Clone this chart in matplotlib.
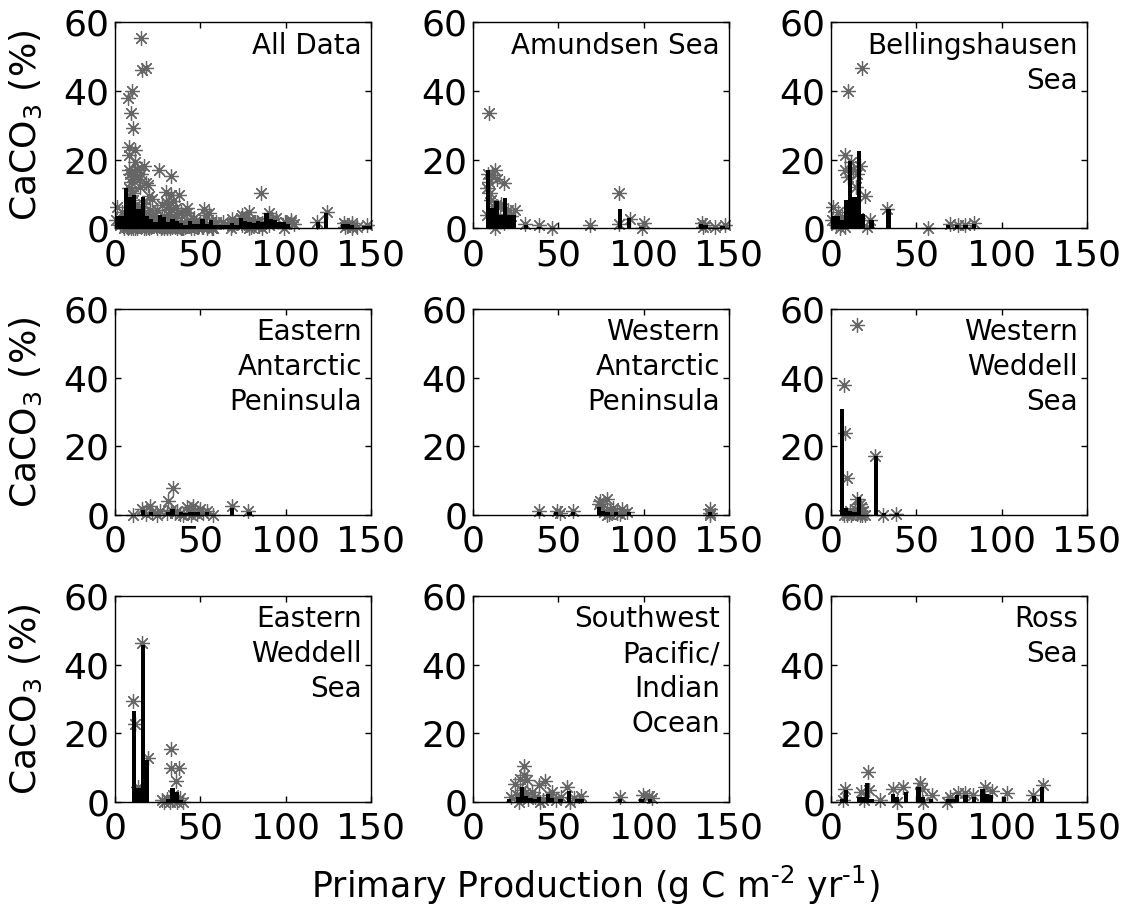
import matplotlib
matplotlib.use('Agg')
import matplotlib.pyplot as plt
import numpy as np

plt.rcParams['font.family'] = ['DejaVu Sans']
plt.rcParams['mathtext.fontset'] = 'dejavusans'

# --- sample data: primary production (g C m-2 yr-1) vs CaCO3 (%) per region ---
# scatter = individual samples, bin_* = binned means drawn as bars (2.5 wide bins)

amundsen_pp = [9.2, 8.0, 9.2, 13.1, 13.8, 17.9, 9.8, 10.4, 24.8, 13.1, 15.6, 19.5, 30.6, 38.4, 46.3,
               68.3, 85.3, 85.3, 91.7, 99.0, 100.4, 134.2, 136.1, 142.0, 147.8,
               8.5, 11.0, 12.0, 16.5, 20.5, 22.0, 8.2, 11.5, 18.0, 135.0]
amundsen_caco3 = [33.5, 11.7, 13.6, 17.0, 14.3, 13.3, 10.2, 8.3, 5.3, 0.0, 6.4, 4.3, 1.3, 1.0, 0.0,
                  1.0, 10.2, 1.3, 2.9, 0.0, 1.6, 1.6, 1.0, 0.5, 1.0,
                  16.0, 15.5, 6.5, 7.0, 5.5, 3.5, 4.0, 2.0, 1.5, 0.5]
amundsen_bin_pp = [8.75, 11.25, 13.75, 16.25, 18.75, 21.25, 23.75, 31.25, 38.75, 86.25, 91.25, 98.75,
                   133.75, 136.25, 146.25]
amundsen_bin_caco3 = [17.0, 6.0, 8.0, 4.0, 9.0, 4.0, 4.0, 1.0, 0.5, 5.8, 3.2, 0.5, 1.3, 1.0, 0.7]

bell_pp = [9.8, 18.0, 8.2, 8.2, 10.2, 15.0, 16.9, 13.1, 19.9, 1.4, 4.3, 0.4, 8.2, 22.8, 32.6, 56.6,
           69.7, 74.6, 78.5, 83.8, 11.1, 6.2, 12.0, 14.5, 3.0, 16.0, 21.0, 5.5]
bell_caco3 = [40.1, 46.8, 21.4, 17.0, 15.0, 16.0, 18.3, 17.2, 9.4, 6.3, 4.8, 2.4, 0.5, 2.4, 5.8, 0.0,
              1.3, 1.0, 1.0, 1.6, 6.3, 3.4, 19.5, 12.0, 1.0, 3.0, 0.5, 0.0]
bell_bin_pp = [1.25, 3.75, 6.25, 8.75, 11.25, 13.75, 16.25, 18.75, 23.75, 33.75, 68.75, 73.75, 78.75, 83.75]
bell_bin_caco3 = [3.5, 3.5, 2.4, 8.4, 19.8, 9.2, 22.5, 4.2, 2.4, 5.6, 1.0, 1.0, 1.0, 1.2]

eap_pp = [34.2, 31.3, 20.5, 10.7, 15.6, 26.3, 42.0, 45.9, 49.8, 53.7, 57.6, 68.4, 78.1, 38.2, 30.4,
          24.6, 36.2, 47.9, 40.0, 33.0, 35.0, 43.5, 21.5, 18.0, 51.5, 44.5]
eap_caco3 = [7.9, 4.2, 2.7, 0.1, 1.7, 1.2, 2.2, 2.7, 1.7, 1.2, 0.0, 2.7, 1.2, 0.3, 0.5,
             0.1, 1.2, 0.3, 0.0, 1.5, 0.5, 1.0, 0.8, 0.3, 0.5, 0.0]
eap_bin_pp = [16.25, 21.25, 31.25, 33.75, 38.75, 41.25, 43.75, 46.25, 48.75, 53.75, 68.75, 78.75]
eap_bin_caco3 = [1.4, 1.0, 1.0, 1.7, 0.8, 0.6, 0.8, 0.8, 0.8, 1.0, 2.0, 0.8]

wap_pp = [38.4, 49.2, 50.8, 58.6, 73.6, 78.5, 75.5, 80.5, 84.4, 87.3, 90.3, 78.5, 139.0, 139.0, 139.0,
          74.5, 76.5, 82.0, 79.5, 86.0]
wap_caco3 = [1.2, 1.2, 0.5, 1.2, 3.2, 4.7, 2.4, 1.2, 0.7, 1.7, 1.0, 0.0, 1.7, 0.0, 0.7,
             4.0, 1.0, 2.0, 0.3, 0.2]
wap_bin_pp = [38.75, 48.75, 58.75, 73.75, 76.25, 78.75, 83.75, 91.25, 138.75]
wap_bin_caco3 = [0.8, 0.8, 0.8, 2.4, 1.2, 0.8, 0.8, 0.8, 1.0]

wws_pp = [15.0, 7.8, 8.2, 9.6, 25.8, 15.4, 16.8, 30.7, 37.9, 11.1, 13.1, 15.0, 18.9, 19.9, 9.6, 16.9,
          7.6, 14.0, 17.5, 12.0, 18.0]
wws_caco3 = [55.4, 38.0, 23.8, 10.8, 17.1, 4.7, 3.2, 0.1, 0.3, 1.2, 0.7, 0.3, 1.2, 0.0, 0.0, 0.1,
             0.0, 1.8, 2.2, 0.0, 0.0]
wws_bin_pp = [6.25, 8.75, 11.25, 13.75, 16.25, 26.25, 31.25, 38.75]
wws_bin_caco3 = [30.9, 2.1, 1.2, 1.0, 5.2, 17.3, 0.5, 0.5]

ews_pp = [15.6, 10.7, 11.6, 19.5, 32.6, 32.6, 37.7, 35.7, 27.3, 30.3, 34.2, 38.1, 32.2, 13.6, 40.0,
          33.5, 36.5, 29.0]
ews_caco3 = [46.2, 29.4, 22.8, 12.8, 15.4, 9.9, 9.9, 6.0, 0.5, 1.0, 2.0, 1.2, 0.0, 4.3, 0.0,
             0.5, 0.0, 0.0]
ews_bin_pp = [11.25, 13.75, 16.25, 18.75, 31.25, 33.75, 36.25, 38.75]
ews_bin_caco3 = [26.4, 4.0, 45.8, 12.2, 0.8, 4.0, 3.0, 0.5]

swp_pp = [30.0, 29.6, 27.7, 24.8, 31.6, 38.4, 42.3, 55.1, 22.0, 34.7, 46.4, 51.3, 63.0, 59.1, 86.3,
          99.9, 102.9, 104.9, 27.1, 39.4, 28.7, 44.4, 30.5, 32.5, 36.5, 41.0, 48.5, 26.0, 57.0]
swp_caco3 = [10.5, 7.8, 6.8, 5.3, 6.3, 4.9, 6.1, 4.5, 1.6, 3.0, 3.0, 1.6, 1.8, 1.3, 1.6,
             2.0, 1.8, 1.3, 0.0, 0.0, 3.5, 2.0, 2.5, 1.0, 1.5, 0.5, 0.5, 2.0, 0.0]
swp_bin_pp = [21.25, 26.25, 28.75, 31.25, 33.75, 36.25, 38.75, 43.75, 46.25, 51.25, 56.25, 61.25, 63.75,
              86.25, 98.75, 103.75]
swp_bin_caco3 = [1.0, 1.5, 4.4, 1.8, 1.2, 1.0, 1.6, 2.3, 1.2, 0.8, 3.2, 1.0, 1.0, 1.0, 1.0, 1.0]

ross_pp = [21.9, 8.2, 17.6, 22.5, 36.5, 42.4, 52.1, 53.1, 59.0, 69.7, 74.6, 78.5, 83.4, 90.2, 94.1,
           102.9, 118.5, 124.4, 28.9, 7.2, 19.5, 67.8, 38.5, 54.1]
ross_caco3 = [8.6, 3.9, 2.9, 3.4, 3.9, 4.4, 5.6, 3.9, 2.0, 1.6, 2.5, 2.5, 2.0, 4.4, 3.1,
              2.5, 2.0, 4.9, 0.5, 0.5, 0.5, 0.0, 0.0, 0.0]
ross_bin_pp = [6.25, 8.75, 16.25, 18.75, 21.25, 23.75, 36.25, 38.75, 43.75, 51.25, 53.75, 58.75, 68.75,
               71.25, 73.75, 78.75, 83.75, 88.75, 91.25, 93.75, 101.25, 118.75, 123.75]
ross_bin_caco3 = [1.0, 3.4, 1.6, 1.6, 5.6, 1.0, 2.3, 1.6, 3.0, 4.4, 1.6, 1.0, 1.0,
                  1.0, 2.0, 2.0, 1.4, 3.8, 2.4, 2.0, 1.4, 1.8, 4.4]

all_bin_pp = [1.25, 3.75, 6.25, 8.75, 11.25, 13.75, 16.25, 18.75, 21.25, 23.75, 26.25, 28.75, 31.25,
              33.75, 36.25, 38.75, 41.25, 43.75, 46.25, 48.75, 51.25, 53.75, 56.25, 58.75, 61.25,
              63.75, 66.25, 68.75, 71.25, 73.75, 76.25, 78.75, 81.25, 83.75, 86.25, 88.75, 91.25,
              93.75, 96.25, 98.75, 101.25, 118.75, 123.75, 133.75, 136.25, 138.75, 146.25, 148.75]
all_bin_caco3 = [3.6, 3.6, 11.8, 9.2, 9.7, 5.8, 9.2, 3.7, 2.9, 1.9, 3.9, 3.4, 1.9,
                 2.9, 2.2, 1.5, 1.0, 2.3, 1.3, 1.3, 2.9, 1.3, 2.5, 1.0, 1.0,
                 1.0, 1.0, 1.7, 1.0, 3.0, 2.2, 1.9, 1.7, 2.3, 1.9, 4.4, 2.9,
                 2.4, 1.9, 1.9, 1.3, 2.0, 4.5, 1.3, 1.3, 1.0, 0.7, 0.7]

# all data = every regional sample together
all_pp = (amundsen_pp + bell_pp + eap_pp + wap_pp + wws_pp + ews_pp + swp_pp + ross_pp)
all_caco3 = (amundsen_caco3 + bell_caco3 + eap_caco3 + wap_caco3 + wws_caco3 + ews_caco3
             + swp_caco3 + ross_caco3)

panels = [
    ('All Data', all_pp, all_caco3, all_bin_pp, all_bin_caco3),
    ('Amundsen Sea', amundsen_pp, amundsen_caco3, amundsen_bin_pp, amundsen_bin_caco3),
    ('Bellingshausen\nSea', bell_pp, bell_caco3, bell_bin_pp, bell_bin_caco3),
    ('Eastern\nAntarctic\nPeninsula', eap_pp, eap_caco3, eap_bin_pp, eap_bin_caco3),
    ('Western\nAntarctic\nPeninsula', wap_pp, wap_caco3, wap_bin_pp, wap_bin_caco3),
    ('Western\nWeddell\nSea', wws_pp, wws_caco3, wws_bin_pp, wws_bin_caco3),
    ('Eastern\nWeddell\nSea', ews_pp, ews_caco3, ews_bin_pp, ews_bin_caco3),
    ('Southwest\nPacific/\nIndian\nOcean', swp_pp, swp_caco3, swp_bin_pp, swp_bin_caco3),
    ('Ross\nSea', ross_pp, ross_caco3, ross_bin_pp, ross_bin_caco3),
]

W, H = 1126, 913
fig = plt.figure(figsize=(W / 100, H / 100), dpi=100)

col_left = [115, 473, 831]      # pixel positions of the axes
row_top = [22.5, 309, 596]
ax_w, ax_h = 256, 206

for i, (name, px, py, bx, by) in enumerate(panels):
    r, c = divmod(i, 3)
    ax = fig.add_axes([col_left[c] / W, (H - row_top[r] - ax_h) / H, ax_w / W, ax_h / H])

    ax.plot(px, py, ls='', marker=(8, 2, 0), ms=10.5, mec='0.4', mfc='none', mew=0.9,
            clip_on=False, zorder=2)
    ax.bar(bx, by, width=2.5, color='k', edgecolor='none', zorder=3)

    ax.set_xlim(0, 150)
    ax.set_ylim(0, 60)
    ax.set_xticks([0, 50, 100, 150])
    ax.set_yticks([0, 20, 40, 60])
    ax.tick_params(direction='in', top=True, right=True, length=4, width=1, labelsize=26)
    ax.tick_params(axis='x', pad=7)
    ax.tick_params(axis='y', pad=4)
    for sp in ax.spines.values():
        sp.set_linewidth(1.0)
        sp.set_zorder(4)

    ax.text(0.965, 0.955, name, transform=ax.transAxes, ha='right', va='top',
            fontsize=20, multialignment='right', linespacing=1.32, zorder=5)

    if c == 0:
        fig.text(26 / W, 1 - (row_top[r] + ax_h / 2) / H, 'CaCO$_3$ (%)', rotation=90,
                 ha='center', va='center', fontsize=26)

# hyphen-style exponents in the axis title
fig.text(595 / W, 1 - 885 / H, 'Primary Production (g C m$^{\u20102}$ yr$^{\u20101}$)',
         ha='center', va='center', fontsize=25)

fig.savefig('out.png', dpi=100)
